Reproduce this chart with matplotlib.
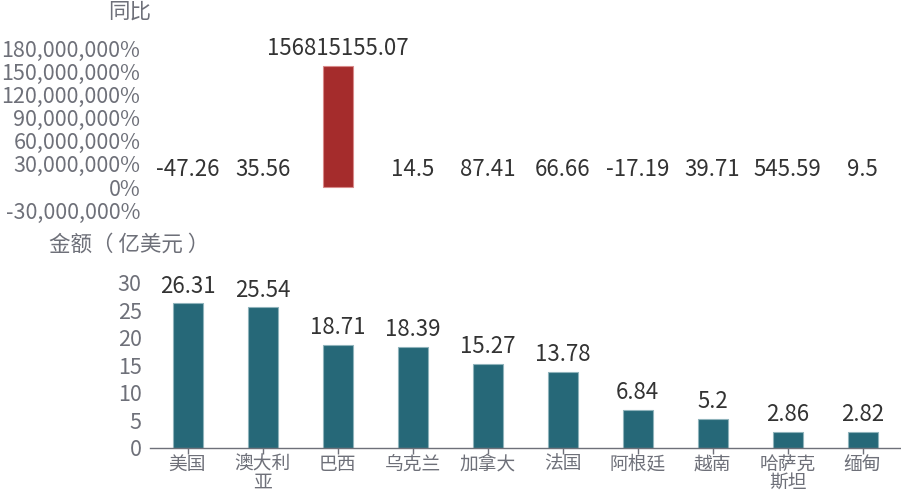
import matplotlib
matplotlib.use("Agg")
import matplotlib.pyplot as plt
from matplotlib.ticker import FuncFormatter, FixedLocator

plt.rcParams['font.family'] = ['Noto Sans CJK SC', 'DejaVu Sans']

countries = ["美国", "澳大利\n亚", "巴西", "乌克兰", "加拿大", "法国", "阿根廷", "越南", "哈萨克\n斯坦", "缅甸"]
yoy_pct = [-47.26, 35.56, 156815155.07, 14.5, 87.41, 66.66, -17.19, 39.71, 545.59, 9.5]
amount = [26.31, 25.54, 18.71, 18.39, 15.27, 13.78, 6.84, 5.2, 2.86, 2.82]
yoy_ticks = [-30000000, 0, 30000000, 60000000, 90000000, 120000000, 150000000, 180000000]
amount_ticks = [0, 5, 10, 15, 20, 25, 30]

AXIS_GREY = "#6e7079"
LABEL_DARK = "#333333"
TEAL = "#266878"
RED = "#a52c2c"

W, H = 901, 492
fig = plt.figure(figsize=(W / 100, H / 100), dpi=100)

x = list(range(len(countries)))
left = 150 / W
width = 750 / W

# --- year-on-year growth panel ---
ax1 = fig.add_axes([left, (H - 210.2) / H, width, 162.1 / H])
ax1.set_xlim(-0.5, len(countries) - 0.5)
ax1.set_ylim(-30000000, 180000000)
# outline only bars tall enough to be visible on this scale
edge_w = [0.8 if abs(v) > 1e6 else 0 for v in yoy_pct]
ax1.bar(x, yoy_pct, width=0.4, color=RED, edgecolor="#d98a8a", linewidth=edge_w)
for xi, v in zip(x, yoy_pct):
    ax1.annotate(f"{v:g}" if abs(v) < 1e6 else f"{v:.2f}", (xi, max(v, 0)),
                 xytext=(0, 4), textcoords="offset points",
                 ha="center", va="bottom", fontsize=16, color=LABEL_DARK)
ax1.yaxis.set_major_locator(FixedLocator(yoy_ticks))
ax1.yaxis.set_major_formatter(FuncFormatter(lambda v, p: f"{int(v):,}%"))
ax1.tick_params(axis="y", length=0, pad=7, labelsize=15.5, labelcolor=AXIS_GREY)
ax1.set_xticks([])
for s in ax1.spines.values():
    s.set_visible(False)
fig.text(130 / W, 1 - 12 / H, "同比", ha="center", va="center", fontsize=15.5, color=AXIS_GREY)

# --- amount panel ---
ax2 = fig.add_axes([left, (H - 447.5) / H, width, 164.7 / H])
ax2.set_xlim(-0.5, len(countries) - 0.5)
ax2.set_ylim(0, 30)
ax2.bar(x, amount, width=0.4, color=TEAL, edgecolor="#8fb3bb", linewidth=0.8)
for xi, v in zip(x, amount):
    ax2.annotate(f"{v:g}", (xi, v), xytext=(0, 4), textcoords="offset points",
                 ha="center", va="bottom", fontsize=16, color=LABEL_DARK)
ax2.set_yticks(amount_ticks)
ax2.tick_params(axis="y", length=0, pad=6, labelsize=15.5, labelcolor=AXIS_GREY)
ax2.set_xticks(x)
ax2.set_xticklabels(countries, linespacing=0.8)
ax2.tick_params(axis="x", length=4, width=1, color=AXIS_GREY, pad=0.5,
                labelsize=13.5, labelcolor=AXIS_GREY)
for name, s in ax2.spines.items():
    s.set_visible(name == "bottom")
ax2.spines["bottom"].set_color(AXIS_GREY)
ax2.spines["bottom"].set_linewidth(1)
fig.text(129 / W, 1 - 245 / H, "金额（ 亿美元 ）", ha="center", va="center", fontsize=15.5, color=AXIS_GREY)

fig.savefig("out.png", dpi=100)
